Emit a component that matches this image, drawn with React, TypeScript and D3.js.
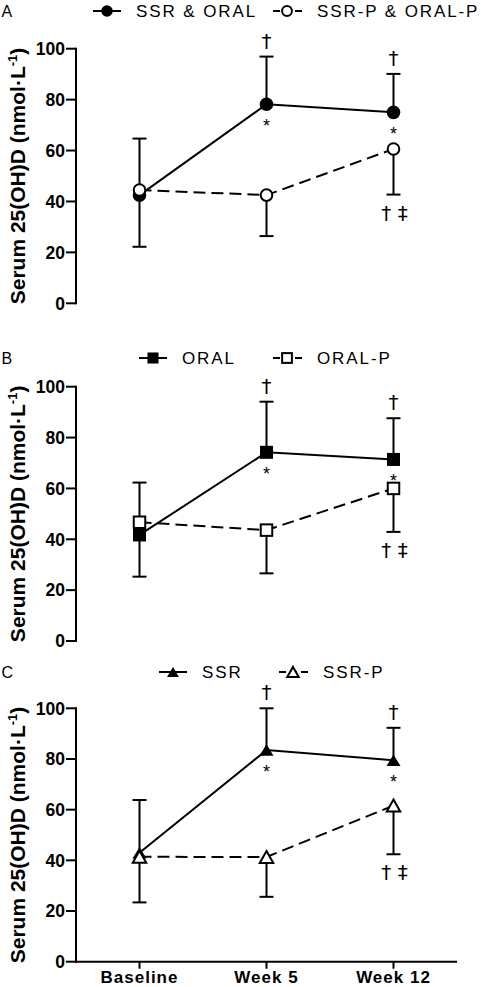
import React from "react";
import * as d3 from "d3";

const categories = ["Baseline", "Week 5", "Week 12"];
const yTicks = [0, 20, 40, 60, 80, 100];
const panelLabels = ["A", "B", "C"];
const treatNames = ["SSR & ORAL", "ORAL", "SSR"];
const placeboNames = ["SSR-P & ORAL-P", "ORAL-P", "SSR-P"];
const markerShapes = ["circle", "square", "triangle"];

// Panel A
const treatMeanA = [42.5, 78.2, 75.0];
const treatSdA = [22.2, 18.7, 15.1];
const placeboMeanA = [44.5, 42.5, 60.6];
const placeboSdA = [22.3, 16.1, 17.9];
// Panel B
const treatMeanB = [41.7, 74.2, 71.4];
const treatSdB = [20.6, 19.9, 16.2];
const placeboMeanB = [46.7, 43.6, 60.0];
const placeboSdB = [21.4, 17.0, 17.1];
// Panel C
const treatMeanC = [43.0, 83.5, 79.5];
const treatSdC = [20.8, 16.5, 12.8];
const placeboMeanC = [41.4, 41.3, 61.6];
const placeboSdC = [18.0, 15.7, 19.2];

const daggerAbove = ["Week 5", "Week 12"];
const starBelow = ["Week 5", "Week 12"];
const doubleBelow = ["Week 12"];

const panels = [
  { tm: treatMeanA, ts: treatSdA, pm: placeboMeanA, ps: placeboSdA },
  { tm: treatMeanB, ts: treatSdB, pm: placeboMeanB, ps: placeboSdB },
  { tm: treatMeanC, ts: treatSdC, pm: placeboMeanC, ps: placeboSdC },
];

// layout
const W = 481;
const H = 987;
const axisX = 76;
const axisRight = 457;
const panelY = [
  [303.3, 48.7],
  [641, 386.7],
  [961.7, 708.3],
];
const legendY = [11, 358, 672];
const legendMarkerX = [
  [107, 287],
  [153, 287],
  [173, 293],
];
const FONT = "'Liberation Sans', Arial, Helvetica, sans-serif";
const SYMFONT = "'DejaVu Sans', 'Liberation Sans', sans-serif";
const DASH = "12,6";

function Marker({ shape, x, y, filled, scale = 1 }: any) {
  const sw = 2;
  if (shape === "circle") {
    const r = (filled ? 6.8 : 5.8) * scale;
    return (
      <circle cx={x} cy={y} r={r} fill={filled ? "#000" : "#fff"} stroke="#000" strokeWidth={filled ? 0 : sw} />
    );
  }
  if (shape === "square") {
    const s = (filled ? 13 : 11.5) * scale;
    return (
      <rect x={x - s / 2} y={y - s / 2} width={s} height={s} fill={filled ? "#000" : "#fff"} stroke="#000" strokeWidth={filled ? 0 : sw} />
    );
  }
  const w = (filled ? 14 : 13.5) * scale;
  const h = (filled ? 11.5 : 12) * scale;
  const p = d3.path();
  p.moveTo(x, y - h / 2);
  p.lineTo(x + w / 2, y + h / 2);
  p.lineTo(x - w / 2, y + h / 2);
  p.closePath();
  return (
    <path d={p.toString()} fill={filled ? "#000" : "#fff"} stroke="#000" strokeWidth={filled ? 0 : sw} strokeLinejoin="miter" />
  );
}

function Panel({ idx }: { idx: number }) {
  const d = panels[idx];
  const shape = markerShapes[idx];
  const x = d3.scalePoint<string>().domain(categories).range([axisX, axisRight]).padding(0.5);
  const y = d3.scaleLinear().domain([0, 100]).range(panelY[idx]);
  const line = d3
    .line<number>()
    .x((_, i) => x(categories[i]) as number)
    .y((v) => y(v));
  const cap = 7;
  const isLast = idx === 2;
  const [lm1, lm2] = legendMarkerX[idx];
  const ly = legendY[idx];
  const yMid = (panelY[idx][0] + panelY[idx][1]) / 2;

  return (
    <g>
      {/* panel letter */}
      <text x={1.5} y={ly} dy="0.35em" fontFamily={FONT} fontSize={16} fill="#000">
        {panelLabels[idx]}
      </text>
      {/* legend */}
      <g>
        <line x1={lm1 - 14} x2={lm1 + 14} y1={ly} y2={ly} stroke="#000" strokeWidth={2} />
        <Marker shape={shape} x={lm1} y={ly} filled scale={0.85} />
        <text x={lm1 + 29} y={ly} dy="0.35em" fontFamily={FONT} fontSize={17} letterSpacing={1.9} fill="#000">
          {treatNames[idx]}
        </text>
        <line x1={lm2 - 14} x2={lm2 + 15} y1={ly} y2={ly} stroke="#000" strokeWidth={2} strokeDasharray="7,4" />
        <Marker shape={shape} x={lm2} y={ly} filled={false} scale={0.85} />
        <text x={lm2 + 30} y={ly} dy="0.35em" fontFamily={FONT} fontSize={17} letterSpacing={1.9} fill="#000">
          {placeboNames[idx]}
        </text>
      </g>
      {/* y axis */}
      <line x1={axisX} x2={axisX} y1={y(0) + 1} y2={y(100) - 1} stroke="#000" strokeWidth={2} />
      {yTicks.map((t) => (
        <g key={t}>
          <line x1={axisX - 10} x2={axisX} y1={y(t)} y2={y(t)} stroke="#000" strokeWidth={2} />
          <text x={axisX - 11} y={y(t)} dy="0.36em" textAnchor="end" fontFamily={FONT} fontWeight="bold" fontSize={17.5} fill="#000">
            {t}
          </text>
        </g>
      ))}
      <text
        transform={`translate(25,${yMid}) rotate(-90)`}
        textAnchor="middle"
        fontFamily={FONT}
        fontWeight="bold"
        fontSize={21}
        fill="#000"
      >
        Serum 25(OH)D (nmol·L
        <tspan dy={-8} fontSize={13}>-1</tspan>
        <tspan dy={8}>)</tspan>
      </text>
      {/* x axis on last panel */}
      {isLast && (
        <g>
          <line x1={axisX - 1} x2={axisRight} y1={y(0)} y2={y(0)} stroke="#000" strokeWidth={2} />
          {categories.map((c) => (
            <g key={c}>
              <line x1={x(c)} x2={x(c)} y1={y(0)} y2={y(0) + 7} stroke="#000" strokeWidth={2} />
              <text x={x(c)} y={983} textAnchor="middle" fontFamily={FONT} fontWeight="bold" fontSize={17} letterSpacing={1} fill="#000">
                {c}
              </text>
            </g>
          ))}
        </g>
      )}
      {/* lines */}
      <path d={line(d.tm) as string} fill="none" stroke="#000" strokeWidth={2} />
      <path d={line(d.pm) as string} fill="none" stroke="#000" strokeWidth={2} strokeDasharray={DASH} />
      {/* error bars */}
      {categories.map((c, i) => {
        const cx = x(c) as number;
        const top = y(d.tm[i] + d.ts[i]);
        const bot = y(d.pm[i] - d.ps[i]);
        return (
          <g key={"e" + c}>
            <line x1={cx} x2={cx} y1={y(d.tm[i])} y2={top} stroke="#000" strokeWidth={2} />
            <line x1={cx - cap} x2={cx + cap} y1={top} y2={top} stroke="#000" strokeWidth={2} />
            <line x1={cx} x2={cx} y1={y(d.pm[i])} y2={bot} stroke="#000" strokeWidth={2} />
            <line x1={cx - cap} x2={cx + cap} y1={bot} y2={bot} stroke="#000" strokeWidth={2} />
          </g>
        );
      })}
      {/* markers */}
      {categories.map((c, i) => (
        <Marker key={"t" + c} shape={shape} x={x(c)} y={y(d.tm[i])} filled />
      ))}
      {categories.map((c, i) => (
        <Marker key={"p" + c} shape={shape} x={x(c)} y={y(d.pm[i])} filled={false} />
      ))}
      {/* annotations */}
      {daggerAbove.map((c) => {
        const i = categories.indexOf(c);
        return (
          <text key={"da" + c} x={x(c)} y={y(d.tm[i] + d.ts[i]) - 9} textAnchor="middle" fontFamily={SYMFONT} fontSize={20} fill="#000">
            †
          </text>
        );
      })}
      {starBelow.map((c) => {
        const i = categories.indexOf(c);
        return (
          <text key={"st" + c} x={x(c)} y={y(d.tm[i]) + 28} textAnchor="middle" fontFamily={FONT} fontSize={18} fill="#000">
            *
          </text>
        );
      })}
      {doubleBelow.map((c) => {
        const i = categories.indexOf(c);
        return (
          <text key={"db" + c} x={(x(c) as number) + 1} y={y(d.pm[i] - d.ps[i]) + 25} textAnchor="middle" fontFamily={SYMFONT} fontSize={20} fill="#000" xmlSpace="preserve">
            {"† ‡"}
          </text>
        );
      })}
    </g>
  );
}

export default function App() {
  return (
    <svg width={W} height={H} viewBox={`0 0 ${W} ${H}`} style={{ position: "absolute", left: 0, top: 0, background: "#fff" }}>
      <rect x={0} y={0} width={W} height={H} fill="#fff" />
      {[0, 1, 2].map((i) => (
        <Panel key={i} idx={i} />
      ))}
    </svg>
  );
}
